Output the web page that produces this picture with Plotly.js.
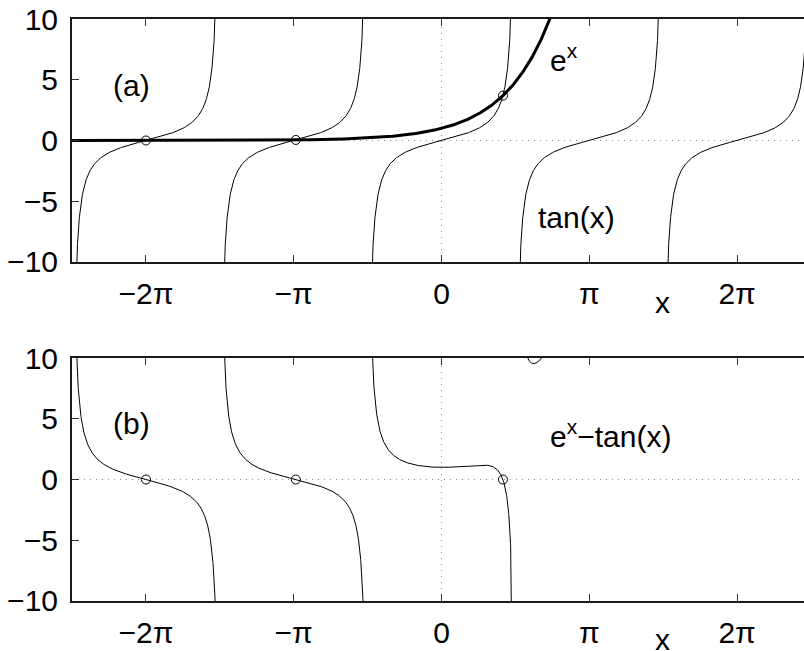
<!DOCTYPE html>
<html>
<head>
<meta charset="utf-8">
<script src="https://cdn.plot.ly/plotly-3.0.1.min.js"></script>
<style>
  html, body { margin: 0; padding: 0; overflow: hidden; background: #fff; }
  #chart { width: 830px; height: 651px; }
</style>
</head>
<body>
<div id="chart"></div>
<script>
const PI = Math.PI;

// Axis set-up shared by both panels
const xRange = [-2.5 * PI, 2.5 * PI];
const yRange = [-10, 10];
const xTickVals = [-2 * PI, -PI, 0, PI, 2 * PI];
const xTickText = ['\u22122\u03c0', '\u2212\u03c0', '0', '\u03c0', '2\u03c0'];
const yTickVals = [-10, -5, 0, 5, 10];
const yTickText = ['\u221210', '\u22125', '0', '5', '10'];

// Branches of tan(x): centres of each period inside the window
const tanCentres = [-2 * PI, -PI, 0, PI, 2 * PI];

// Branches of e^x - tan(x) that appear in the window: [start, end]
const diffBranches = [
  [-2.5 * PI, -1.5 * PI],
  [-1.5 * PI, -0.5 * PI],
  [-0.5 * PI, 0.5 * PI],
  [0.5 * PI, 2.6]
];

// Roots of e^x = tan(x) shown with circles
const rootsX = [-6.2813, -3.0964, 1.3063];

const BLACK = '#000000';
const traces = [];

// (a) tan(x), one trace per branch
tanCentres.forEach(c => {
  const xs = [], ys = [];
  for (let t = -14; t <= 14.0001; t += 0.04) {
    xs.push(c + Math.atan(t));
    ys.push(t);
  }
  traces.push({
    x: xs, y: ys, xaxis: 'x', yaxis: 'y', mode: 'lines',
    line: { color: BLACK, width: 1 }, hoverinfo: 'skip', showlegend: false
  });
});

// (a) e^x, thick
{
  const xs = [], ys = [];
  for (let x = xRange[0]; x <= 2.5; x += 0.01) {
    xs.push(x);
    ys.push(Math.exp(x));
  }
  traces.push({
    x: xs, y: ys, xaxis: 'x', yaxis: 'y', mode: 'lines',
    line: { color: BLACK, width: 3 }, hoverinfo: 'skip', showlegend: false
  });
}

// (a) intersections
traces.push({
  x: rootsX, y: rootsX.map(Math.exp), xaxis: 'x', yaxis: 'y', mode: 'markers',
  marker: { symbol: 'circle-open', size: 9, color: BLACK, line: { width: 1, color: BLACK } },
  hoverinfo: 'skip', showlegend: false
});

// (b) e^x - tan(x), one trace per branch
diffBranches.forEach(([a, b]) => {
  const xs = [], ys = [];
  const eps = 0.03;
  const lo = a + eps;
  const hi = Math.abs(b - Math.round(b / (PI / 2)) * (PI / 2)) < 1e-9 ? b - eps : b;
  const n = 1500;
  for (let i = 0; i <= n; i++) {
    const x = lo + (hi - lo) * i / n;
    xs.push(x);
    ys.push(Math.exp(x) - Math.tan(x));
  }
  traces.push({
    x: xs, y: ys, xaxis: 'x2', yaxis: 'y2', mode: 'lines',
    line: { color: BLACK, width: 1 }, hoverinfo: 'skip', showlegend: false
  });
});

// (b) zeros
traces.push({
  x: rootsX, y: rootsX.map(() => 0), xaxis: 'x2', yaxis: 'y2', mode: 'markers',
  marker: { symbol: 'circle-open', size: 9, color: BLACK, line: { width: 1, color: BLACK } },
  hoverinfo: 'skip', showlegend: false
});

const FONT = 'Liberation Sans, Arial, Helvetica, sans-serif';

function xAxis(anchor) {
  return {
    anchor: anchor, range: xRange, tickmode: 'array',
    tickvals: xTickVals, ticktext: xTickText,
    ticks: 'inside', ticklen: 7, tickwidth: 1, tickcolor: '#333',
    showline: true, linewidth: 2, linecolor: '#1a1a1a', mirror: 'ticks',
    showgrid: false, zeroline: false,
    tickfont: { family: FONT, size: 30, color: BLACK },
    ticklabelstandoff: 4
  };
}
function yAxis(anchor, domain) {
  return {
    anchor: anchor, domain: domain, range: yRange, tickmode: 'array',
    tickvals: yTickVals, ticktext: yTickText,
    ticks: 'inside', ticklen: 7, tickwidth: 1, tickcolor: '#333',
    showline: true, linewidth: 2, linecolor: '#1a1a1a', mirror: 'ticks',
    showgrid: false, zeroline: false,
    tickfont: { family: FONT, size: 30, color: BLACK },
    ticklabelstandoff: 6
  };
}

const dotted = { color: '#8a8a8a', width: 1, dash: '1px,5px' };
const shapes = [];
[['x', 'y'], ['x2', 'y2']].forEach(([xa, ya]) => {
  shapes.push({ type: 'line', layer: 'below', xref: xa, yref: ya + ' domain', x0: 0, x1: 0, y0: 0, y1: 1, line: dotted });
  shapes.push({ type: 'line', layer: 'below', xref: xa + ' domain', yref: ya, x0: 0, x1: 1, y0: 0, y1: 0, line: dotted });
});

const tf = { family: FONT, size: 30, color: BLACK };
const annotations = [
  { xref: 'x', yref: 'y', x: -6.59, y: 4.5, text: '(a)', showarrow: false, xanchor: 'center', yanchor: 'middle', font: tf },
  { xref: 'x', yref: 'y', x: 2.27, y: 6.75, text: 'e<sup>x</sup>', showarrow: false, xanchor: 'left', yanchor: 'middle', font: tf },
  { xref: 'x', yref: 'y', x: 2.0, y: -6.3, text: 'tan(x)', showarrow: false, xanchor: 'left', yanchor: 'middle', font: tf },
  { xref: 'paper', yref: 'paper', x: 0.799, y: 0.5137, text: 'x', showarrow: false, xanchor: 'center', yanchor: 'middle', font: tf },
  { xref: 'x2', yref: 'y2', x: -6.59, y: 4.6, text: '(b)', showarrow: false, xanchor: 'center', yanchor: 'middle', font: tf },
  { xref: 'x2', yref: 'y2', x: 2.27, y: 3.75, text: 'e<sup>x</sup>\u2212tan(x)', showarrow: false, xanchor: 'left', yanchor: 'middle', font: tf },
  { xref: 'paper', yref: 'paper', x: 0.799, y: -0.0653, text: 'x', showarrow: false, xanchor: 'center', yanchor: 'middle', font: tf }
];

const layout = {
  width: 830, height: 651,
  margin: { l: 72, r: 19, t: 19, b: 50 },
  paper_bgcolor: '#ffffff', plot_bgcolor: '#ffffff',
  xaxis: xAxis('y'),
  yaxis: yAxis('x', [0.5825, 1]),
  xaxis2: xAxis('y2'),
  yaxis2: yAxis('x2', [0, 0.4175]),
  shapes: shapes,
  annotations: annotations,
  showlegend: false
};

Plotly.newPlot('chart', traces, layout, { staticPlot: true, displayModeBar: false });
</script>
</body>
</html>
